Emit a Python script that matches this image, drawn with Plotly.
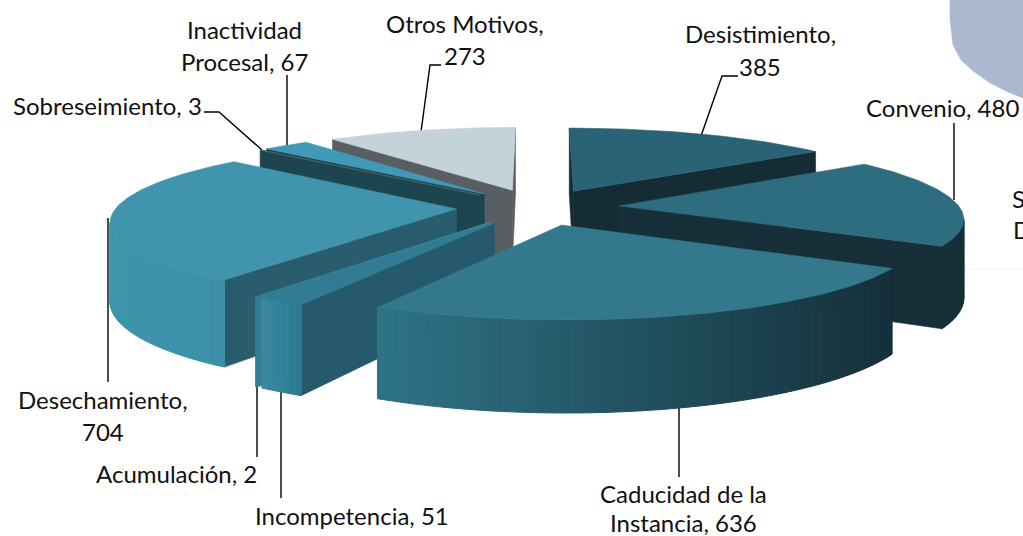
import math
import plotly.graph_objects as go

# ---- data (clockwise from 12 o'clock) ----
categories = ["Desistimiento", "Convenio", "Caducidad de la Instancia", "Incompetencia",
              "Acumulación", "Desechamiento", "Sobreseimiento", "Inactividad Procesal", "Otros Motivos"]
values = [385, 480, 636, 51, 2, 704, 3, 67, 273]
label_lines = [["Desistimiento,", "385"], ["Convenio, 480"], ["Caducidad de la", "Instancia, 636"],
               ["Incompetencia, 51"], ["Acumulación, 2"], ["Desechamiento,", "704"],
               ["Sobreseimiento, 3"], ["Inactividad", "Procesal, 67"], ["Otros Motivos,", "273"]]

# ---- styles ----
top_colors = ["#2a6375", "#2e6c80", "#34788d", "#327c93", "#3a8aa3", "#4094ad", "#5a6668", "#3f9ab6", "#c4d2da"]
face_colors = ["#152c35", "#162f38", "#1b3f4b", "#26596b", "#2f7e96", "#295d6e", "#1d4550", "#1d4550", "#585e62"]
wall_right = ["#152c35", "#162f38", "#15303a", "#2f7a92", "#2f7e96", "#3e90a8", "#1d4550", "#2a6c80", "#aab6bd"]
wall_left = ["#152c35", "#162f38", "#2f7488", "#3a8aa3", "#2f7e96", "#3f93ad", "#1d4550", "#2a6c80", "#aab6bd"]

# ---- projection settings (pixels) ----
CX, CY = 538, 207
RX, RY = 340, 76
PERSP = 0.14
DEPTH = 77
EXPLODE = 0.24


def project(x, y, down=False):
    s = 1 / (1 + PERSP * y)
    return CX + RX * x * s, CY - RY * y * s + (DEPTH * s if down else 0)


def mix(a, b, t):
    ca = [int(a[i:i + 2], 16) for i in (1, 3, 5)]
    cb = [int(b[i:i + 2], 16) for i in (1, 3, 5)]
    return "rgb(%d,%d,%d)" % tuple(round(p + (q - p) * t) for p, q in zip(ca, cb))


def faces_viewer(p1, p2, ref, down):
    """True if the downward-extruded side of edge p1-p2 is opposite the slice interior."""
    ex, ey = p2[0] - p1[0], p2[1] - p1[1]
    c_ref = ex * (ref[1] - p1[1]) - ey * (ref[0] - p1[0])
    c_down = ex * (down[1] - p1[1]) - ey * (down[0] - p1[0])
    return c_ref * c_down < 0


fig = go.Figure()


def poly(pts, color, width=0.6):
    xs = [p[0] for p in pts] + [pts[0][0]]
    ys = [p[1] for p in pts] + [pts[0][1]]
    fig.add_trace(go.Scatter(x=xs, y=ys, mode="lines", fill="toself", fillcolor=color,
                             line=dict(color=color, width=width), hoverinfo="skip", showlegend=False))


# background fragments of the cropped page
fig.add_trace(go.Scatter(x=[950, 950, 953, 961, 973, 990, 1008, 1023, 1023, 950],
                         y=[0, 20, 45, 60, 71, 83, 92, 98, 0, 0], mode="lines", fill="toself",
                         fillcolor="#abb8d0", line=dict(color="#abb8d0", width=0.5),
                         hoverinfo="skip", showlegend=False))
fig.add_trace(go.Scatter(x=[960, 1023], y=[269, 269], mode="lines", line=dict(color="#f5f5f5", width=1),
                         hoverinfo="skip", showlegend=False))

# leader lines
leaders = [
    ([738, 722, 701], [76, 76, 136]),
    ([954, 954], [123, 200]),
    ([679, 679], [405, 477]),
    ([281, 281], [392, 498]),
    ([257, 257], [385, 457]),
    ([108, 108], [218, 382]),
    ([204, 219, 262], [112, 112, 150]),
    ([287, 287], [75, 146]),
    ([441, 430, 421], [65, 65, 132]),
]
for lx, ly in leaders:
    fig.add_trace(go.Scatter(x=lx, y=ly, mode="lines", line=dict(color="black", width=1.4),
                             hoverinfo="skip", showlegend=False))

# slice geometry from the values
total = sum(values)
spans = []
acc = 0
for v in values:
    spans.append((acc / total * 2 * math.pi, (acc + v) / total * 2 * math.pi))
    acc += v

draw_order = [8, 0, 7, 6, 1, 5, 4, 3, 2]
for i in draw_order:
    a0, a1 = spans[i]
    mid = (a0 + a1) / 2
    ox, oy = EXPLODE * math.sin(mid), EXPLODE * math.cos(mid)
    n = max(2, int((a1 - a0) / math.radians(1)))
    angs = [a0 + (a1 - a0) * k / n for k in range(n + 1)]
    rim = [(ox + math.sin(a), oy + math.cos(a)) for a in angs]
    apex_t, apex_b = project(ox, oy), project(ox, oy, True)
    rim_t = [project(*p) for p in rim]
    rim_b = [project(*p, True) for p in rim]
    inner = ((apex_t[0] + rim_t[n // 2][0] * 2) / 3, (apex_t[1] + rim_t[n // 2][1] * 2) / 3)
    # cut faces
    for end in (0, n):
        if faces_viewer(apex_t, rim_t[end], inner, apex_b):
            poly([apex_t, rim_t[end], rim_b[end], apex_b], face_colors[i])
    # outer wall, strip by strip
    xmin, xmax = min(p[0] for p in rim_t), max(p[0] for p in rim_t)
    for k in range(n):
        if faces_viewer(rim_t[k], rim_t[k + 1], apex_t, rim_b[k]):
            t = (rim_t[k][0] - xmin) / max(1, xmax - xmin)
            poly([rim_t[k], rim_t[k + 1], rim_b[k + 1], rim_b[k]], mix(wall_left[i], wall_right[i], t), 1)
    # top
    poly([apex_t] + rim_t, top_colors[i])

# labels
label_pos = [[(760, 33), (760, 66)], [(942, 107)], [(683, 493), (683, 522)], [(352, 515)], [(176, 473)],
             [(103, 399), (103, 431)], [(107, 105)], [(244, 29), (244, 61)], [(465, 23), (465, 55)]]
ann = []
for lines, pos in zip(label_lines, label_pos):
    for t, (x, y) in zip(lines, pos):
        ann.append(dict(x=x, y=y, text=t, showarrow=False, xanchor="center", yanchor="middle",
                        font=dict(family="Lato", size=24, color="#111111")))
ann.append(dict(x=1010, y=198, text="S", showarrow=False, xanchor="left", yanchor="middle",
                font=dict(family="Lato", size=24, color="#111111")))
ann.append(dict(x=1011, y=229, text="D", showarrow=False, xanchor="left", yanchor="middle",
                font=dict(family="Lato", size=24, color="#111111")))

fig.update_layout(
    width=1023, height=536, margin=dict(l=0, r=0, t=0, b=0), showlegend=False,
    paper_bgcolor="white", plot_bgcolor="white", annotations=ann,
    xaxis=dict(range=[0, 1023], visible=False, fixedrange=True),
    yaxis=dict(range=[536, 0], visible=False, fixedrange=True),
)
fig.write_html("out.html", config={"displayModeBar": False},
               post_script="document.body.style.margin='0';document.body.style.overflow='hidden';")
